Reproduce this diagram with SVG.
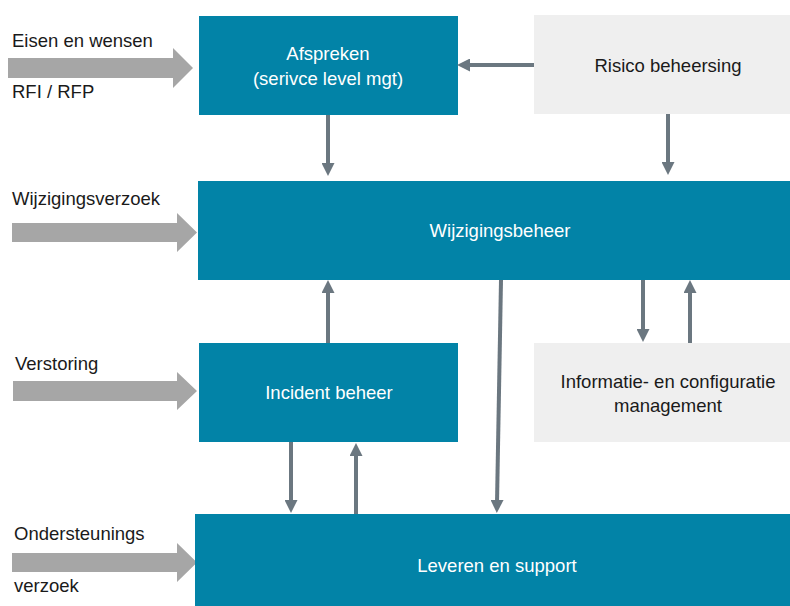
<svg xmlns="http://www.w3.org/2000/svg" width="790" height="606" viewBox="0 0 790 606">
<defs>
<style>
.blue{fill:#0283a7}
.light{fill:#efefef}
.wt{fill:#ffffff;font-family:"Liberation Sans",Arial,sans-serif;font-size:18.5px;text-anchor:middle}
.bt{fill:#1a1a1a;font-family:"Liberation Sans",Arial,sans-serif;font-size:18.5px;text-anchor:middle}
.lt{fill:#1a1a1a;font-family:"Liberation Sans",Arial,sans-serif;font-size:18.5px}
.in{fill:#a6a6a6}
.con{stroke:#6b7780;stroke-width:4;fill:none;marker-end:url(#ah)}
</style>
<marker id="ah" viewBox="0 0 13 13" markerWidth="13" markerHeight="13" refX="3" refY="6.5" orient="auto" markerUnits="userSpaceOnUse">
<path d="M0,0 L13,6.5 L0,13 z" fill="#6b7780"/>
</marker>
</defs>
<rect width="790" height="606" fill="#ffffff"/>

<g id="inputs">
<g id="in-eisen">
<polygon class="in" points="8,58 173,58 173,48 193,68 173,88 173,78 8,78"/>
<text class="lt" x="12" y="47">Eisen en wensen</text>
<text class="lt" x="12" y="98">RFI / RFP</text>
</g>
<g id="in-wijziging">
<polygon class="in" points="12,223 177,223 177,213 197,232.5 177,252 177,242 12,242"/>
<text class="lt" x="12" y="205">Wijzigingsverzoek</text>
</g>
<g id="in-verstoring">
<polygon class="in" points="13,381 177,381 177,372 197,391 177,410 177,401 13,401"/>
<text class="lt" x="15" y="370">Verstoring</text>
</g>
<g id="in-ondersteuning">
<polygon class="in" points="12,553 177,553 177,543 197,562.5 177,582 177,572 12,572"/>
<text class="lt" x="14" y="540">Ondersteunings</text>
<text class="lt" x="14" y="592">verzoek</text>
</g>
</g>

<g id="afspreken">
<rect class="blue" x="199" y="16" width="259" height="99"/>
<text class="wt" x="328" y="60">Afspreken</text>
<text class="wt" x="328" y="85">(serivce level mgt)</text>
</g>

<g id="risico">
<rect class="light" x="534" y="15" width="256" height="99"/>
<text class="bt" x="668" y="72">Risico beheersing</text>
</g>

<g id="wijzigingsbeheer">
<rect class="blue" x="198" y="181" width="592" height="99"/>
<text class="wt" x="500" y="237">Wijzigingsbeheer</text>
</g>

<g id="incident">
<rect class="blue" x="199" y="343" width="259" height="99"/>
<text class="wt" x="329" y="399">Incident beheer</text>
</g>

<g id="informatie">
<rect class="light" x="534" y="343" width="256" height="99"/>
<text class="bt" x="668" y="388">Informatie- en configuratie</text>
<text class="bt" x="668" y="412">management</text>
</g>

<g id="leveren">
<rect class="blue" x="195" y="514" width="595" height="92"/>
<text class="wt" x="497" y="572">Leveren en support</text>
</g>

<g id="connectors">
<line class="con" x1="534" y1="65" x2="467" y2="65"/>
<line class="con" x1="328" y1="115" x2="328" y2="166"/>
<line class="con" x1="668" y1="114" x2="668" y2="165"/>
<line class="con" x1="643" y1="280" x2="643" y2="332"/>
<line class="con" x1="690" y1="343" x2="690" y2="290"/>
<line class="con" x1="501" y1="280" x2="497" y2="503"/>
<line class="con" x1="328" y1="343" x2="328" y2="290"/>
<line class="con" x1="291" y1="442" x2="291" y2="503"/>
<line class="con" x1="356" y1="514" x2="356" y2="453"/>
</g>
</svg>
